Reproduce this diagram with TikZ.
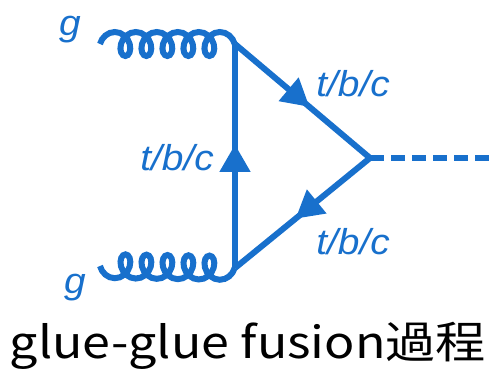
\documentclass[tikz,border=0pt]{standalone}
\usepackage{fontspec}
\usepackage{tikz}
\usetikzlibrary{arrows}
\usetikzlibrary{decorations.markings}
\usetikzlibrary{decorations.pathmorphing}
\newfontfamily\labelfont{Liberation Sans}
\newfontfamily\cjkfont{Noto Sans CJK JP}
\definecolor{gblue}{RGB}{24,112,204}
\tikzstyle{fermion}=[draw=gblue,postaction={decorate},decoration={markings,mark=at position 0.55 with {\arrow[scale=1.1]{triangle 60}}}]
\tikzstyle{gluon}=[draw=gblue,decorate,decoration={coil,amplitude=12pt,segment length=21pt,aspect=0.8}]
\tikzstyle{gluonb}=[gluon,decoration={mirror}]
\tikzstyle{scalar}=[draw=gblue,dash pattern=on 14pt off 7pt]
\tikzstyle{lbl}=[text=gblue,xscale=1.08,transform shape,font=\labelfont\itshape\fontsize{36}{36}\selectfont]
\tikzset{every picture/.style={
    line width=6pt
  }
}

\begin{document}
\begin{tikzpicture}[x=1pt,y=-1pt]
      \useasboundingbox (0,0) rectangle (490,371);
      \coordinate (v1) at (235,44);
      \coordinate (v2) at (235,268);
      \coordinate (v3) at (370,158);
      \coordinate (g1) at (100,44);
      \coordinate (g2) at (100,266);
      \coordinate (h) at (492,158);
      \node[lbl] at (70,30) (lg1) {g};
      \node[lbl] at (75,288) (lg2) {g};
      \node[lbl] at (353,84) (lt1) {t/b/c};
      \node[lbl] at (177,158) (lt2) {t/b/c};
      \node[lbl] at (353,242) (lt3) {t/b/c};
      \draw[gluon] (g1)--(v1);
      \draw[gluonb] (g2)--(v2);
      \draw[fermion] (v1)--(v3);
      \draw[fermion] (v3)--(v2);
      \draw[fermion] (v2)--(v1);
      \draw[scalar] (v3)--(h);
      \node[anchor=base,xscale=1.14,transform shape,font=\cjkfont\fontsize{44}{44}\selectfont] at (248,358) (cap) {glue-glue fusion過程};
    \end{tikzpicture}
\end{document}
